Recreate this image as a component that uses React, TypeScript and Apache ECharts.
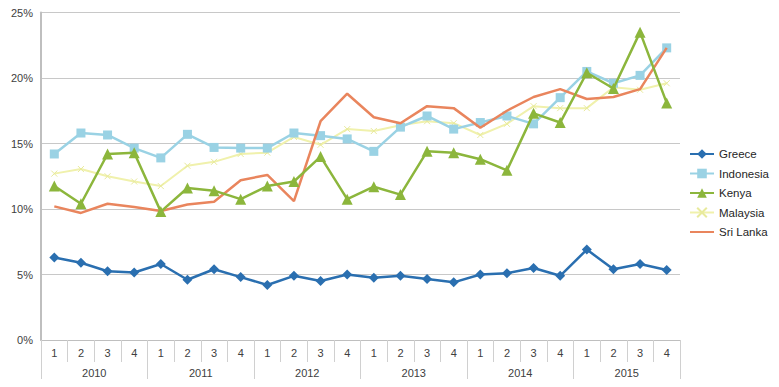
import React, { useEffect, useRef } from "react";
import * as echarts from "echarts";

const quarters = ["1","2","3","4","1","2","3","4","1","2","3","4","1","2","3","4","1","2","3","4","1","2","3","4"];
const years = ["2010", "2011", "2012", "2013", "2014", "2015"];

const greece = [6.3, 5.9, 5.25, 5.15, 5.8, 4.6, 5.4, 4.8, 4.2, 4.9, 4.5, 5.0, 4.75, 4.9, 4.65, 4.4, 5.0, 5.1, 5.5, 4.9, 6.9, 5.4, 5.8, 5.35];
const indonesia = [14.2, 15.8, 15.65, 14.65, 13.9, 15.7, 14.7, 14.65, 14.65, 15.8, 15.6, 15.35, 14.4, 16.25, 17.1, 16.1, 16.6, 17.1, 16.5, 18.5, 20.5, 19.6, 20.2, 22.3];
const kenya = [11.75, 10.4, 14.2, 14.3, 9.8, 11.6, 11.4, 10.75, 11.75, 12.1, 14.0, 10.75, 11.7, 11.1, 14.4, 14.3, 13.8, 12.95, 17.3, 16.6, 20.4, 19.2, 23.5, 18.1];
const malaysia = [12.7, 13.05, 12.5, 12.1, 11.75, 13.3, 13.6, 14.2, 14.3, 15.5, 14.9, 16.1, 15.95, 16.4, 16.7, 16.55, 15.65, 16.5, 17.85, 17.7, 17.7, 19.3, 19.1, 19.6];
const sriLanka = [10.2, 9.7, 10.4, 10.15, 9.85, 10.35, 10.55, 12.2, 12.6, 10.6, 16.7, 18.8, 17.0, 16.55, 17.85, 17.7, 16.2, 17.5, 18.55, 19.15, 18.4, 18.55, 19.15, 22.3];

const yTicks = { min: 0, max: 25, interval: 5 };

export default function App() {
  const ref = useRef<HTMLDivElement>(null);
  useEffect(() => {
    if (!ref.current) return;
    const chart = echarts.init(ref.current, null, { renderer: "svg" });
    const font = "Liberation Sans, Arial, sans-serif";
    const mk = (name: string, data: number[], color: string, symbol: string, size: number, width: number, z: number) => ({
      name,
      type: "line",
      data,
      xAxisIndex: 0,
      symbol,
      symbolSize: size,
      showSymbol: true,
      lineStyle: { color, width },
      itemStyle: { color },
      z,
    });
    chart.setOption({
      animation: false,
      backgroundColor: "#ffffff",
      grid: { left: 41, right: 99, top: 12.5, bottom: 47 },
      legend: {
        orient: "vertical",
        left: 689,
        top: 148,
        padding: 0,
        itemWidth: 24,
        itemHeight: 12,
        itemGap: 7.5,
        textStyle: { fontFamily: font, fontSize: 11.5, color: "#262626", width: 80, overflow: "none" },
        data: [
          "Greece",
          "Indonesia",
          "Kenya",
          "Malaysia",
          { name: "Sri Lanka", itemStyle: { opacity: 0 } },
        ],
      },
      xAxis: [
        {
          type: "category",
          data: quarters,
          position: "bottom",
          boundaryGap: true,
          axisLine: { show: true, lineStyle: { color: "#bfbfbf", width: 1 } },
          axisTick: { show: true, length: 22, lineStyle: { color: "#d0d0d0" }, interval: 0 },
          axisLabel: { interval: 0, margin: 7, fontFamily: font, fontSize: 11, color: "#404040" },
          splitLine: { show: false },
        },
        {
          type: "category",
          data: years,
          position: "bottom",
          offset: 0,
          boundaryGap: true,
          axisLine: { show: false },
          axisTick: { show: true, length: 42, lineStyle: { color: "#d0d0d0" }, interval: 0 },
          axisLabel: { interval: 0, margin: 27, fontFamily: font, fontSize: 11, color: "#404040" },
          splitLine: { show: false },
        },
      ],
      yAxis: {
        type: "value",
        min: yTicks.min,
        max: yTicks.max,
        interval: yTicks.interval,
        axisLine: { show: true, lineStyle: { color: "#bfbfbf", width: 2 } },
        axisTick: { show: false },
        axisLabel: { formatter: "{value}%", margin: 8, fontFamily: font, fontSize: 11, color: "#404040" },
        splitLine: { show: true, lineStyle: { color: "#c8c8c8", width: 1 } },
      },
      series: [
        mk("Greece", greece, "#2a6fb0", "diamond", 10, 2.5, 6),
        mk("Indonesia", indonesia, "#9ad2e4", "rect", 9, 2.5, 3),
        mk("Kenya", kenya, "#8cb63c", "triangle", 11, 2.5, 5),
        {
          ...mk("Malaysia", malaysia, "#f0f1ac", "path://M0,0L10,10M10,0L0,10", 6, 2, 2),
          itemStyle: { color: "#f0f1ac", borderColor: "#e8ea9c", borderWidth: 1 },
        },
        { ...mk("Sri Lanka", sriLanka, "#e9855d", "circle", 0, 2.5, 4), showSymbol: false },
      ],
    });
    return () => chart.dispose();
  }, []);
  return <div ref={ref} style={{ width: 779, height: 387, margin: -8 }} />;
}
